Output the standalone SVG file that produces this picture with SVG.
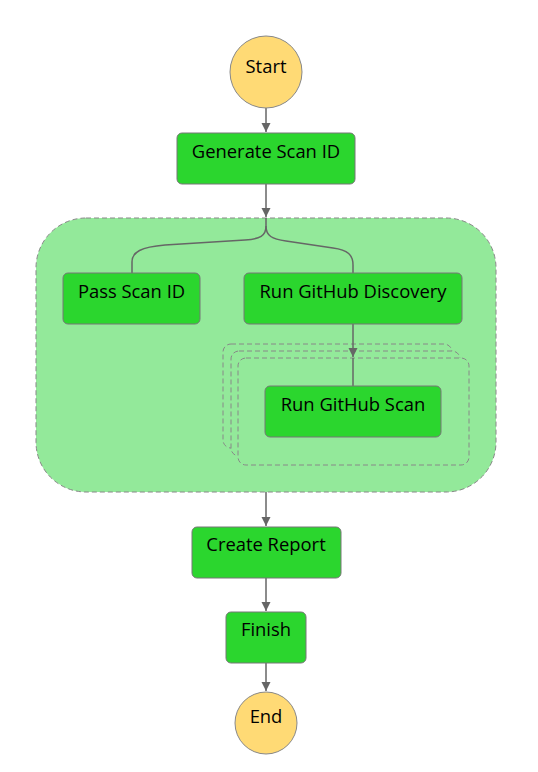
<svg xmlns="http://www.w3.org/2000/svg" width="538" height="772" viewBox="0 0 538 772">
<defs>
<marker id="ah" markerWidth="10" markerHeight="10" refX="9" refY="5" orient="auto" markerUnits="userSpaceOnUse">
<path d="M0,0.5 L9,5 L0,9.5 Z" fill="#666"/>
</marker>
<style>
.state{fill:#2bd62e;stroke:#777;stroke-width:1}
.term{fill:#ffda75;stroke:#888;stroke-width:1}
.cont{fill:#93e99a;stroke:#888;stroke-width:1;stroke-dasharray:5 3}
.iter{fill:#93e99a;stroke:#888;stroke-width:1;stroke-dasharray:5 3}
.lbl{font-family:"Open Sans","Noto Sans",sans-serif;font-size:18.4px;font-weight:500;fill:#000;text-anchor:middle;dominant-baseline:central}
.edge{fill:none;stroke:#666;stroke-width:1.5}
</style>
</defs>
<rect width="538" height="772" fill="#fff"/>
<g id="parallel">
<rect class="cont" x="36" y="218" width="460" height="274" rx="50" ry="50"/>
</g>
<g id="map">
<rect class="iter" x="223" y="344" width="229" height="104" rx="8"/>
<rect class="iter" x="231" y="351" width="229" height="105" rx="8"/>
<rect class="iter" x="238" y="358" width="231" height="107" rx="8"/>
</g>
<g id="connectors">
<path class="edge" d="M266,108 V132" marker-end="url(#ah)"/>
<path class="edge" d="M266,184 V217" marker-end="url(#ah)"/>
<path class="edge" d="M266,218 V226 C266,236 260,239 245,240 L165,245 C141,247 132,252 132,262 V273"/>
<path class="edge" d="M266,226 C266,236 272,239 286,241 L333,248 C348,250 353,255 353,265 V273"/>
<path class="edge" d="M353,324 V357" marker-end="url(#ah)"/>
<path class="edge" d="M353,358 V386"/>
<path class="edge" d="M266,492 V526" marker-end="url(#ah)"/>
<path class="edge" d="M266,578 V611" marker-end="url(#ah)"/>
<path class="edge" d="M266,663 V691" marker-end="url(#ah)"/>
</g>
<g id="start">
<circle class="term" cx="266" cy="72" r="36"/>
<text class="lbl" x="266" y="65.5">Start</text>
</g>
<g id="generate-scan-id">
<rect class="state" x="177" y="133" width="178" height="51" rx="5"/>
<text class="lbl" x="266" y="150.5">Generate Scan ID</text>
</g>
<g id="pass-scan-id">
<rect class="state" x="63" y="273" width="137" height="51" rx="5"/>
<text class="lbl" x="131.5" y="290.5">Pass Scan ID</text>
</g>
<g id="run-github-discovery">
<rect class="state" x="244" y="273" width="218" height="51" rx="5"/>
<text class="lbl" x="353" y="290.5">Run GitHub Discovery</text>
</g>
<g id="run-github-scan">
<rect class="state" x="265" y="386" width="176" height="51" rx="5"/>
<text class="lbl" x="353" y="403.5">Run GitHub Scan</text>
</g>
<g id="create-report">
<rect class="state" x="192" y="527" width="149" height="51" rx="5"/>
<text class="lbl" x="266" y="543.5">Create Report</text>
</g>
<g id="finish">
<rect class="state" x="226" y="612" width="80" height="51" rx="5"/>
<text class="lbl" x="266" y="628.5">Finish</text>
</g>
<g id="end">
<circle class="term" cx="266" cy="723" r="31"/>
<text class="lbl" x="266" y="715.5">End</text>
</g>
</svg>
